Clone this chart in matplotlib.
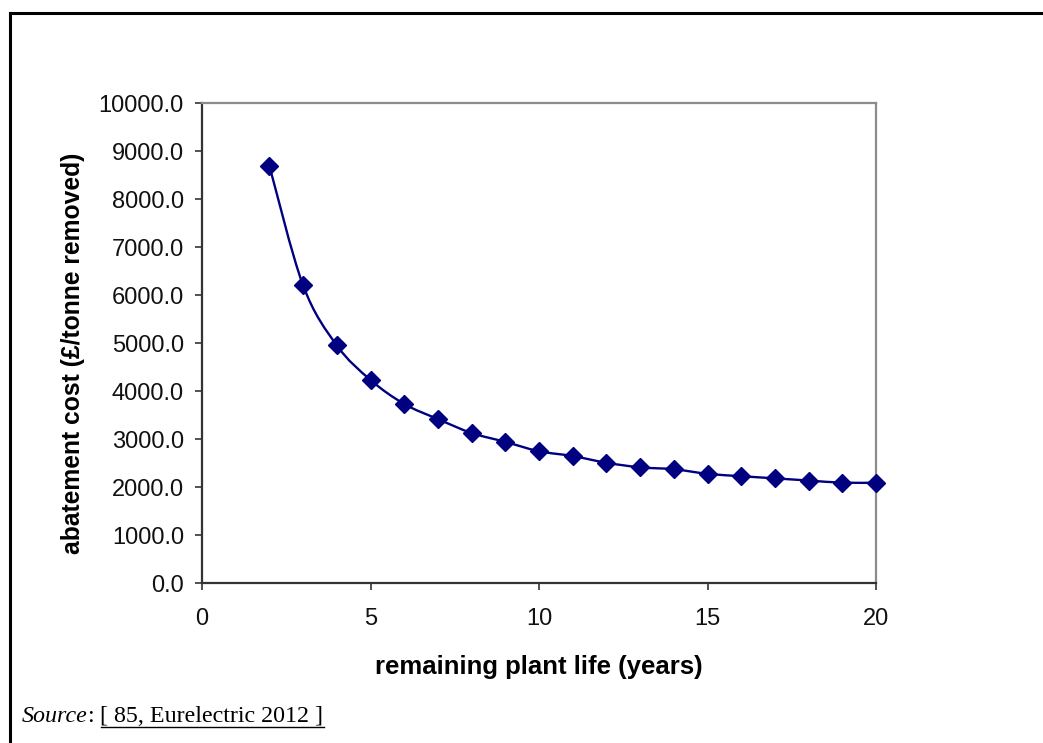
import numpy as np
import matplotlib
matplotlib.use('Agg')
import matplotlib.pyplot as plt
from matplotlib.path import Path
from matplotlib.patches import PathPatch
from matplotlib.lines import Line2D

# Данные графика
plant_life = [2, 3, 4, 5, 6, 7, 8, 9, 10, 11, 12, 13, 14, 15, 16, 17, 18, 19, 20]
abatement_cost = [8690, 6200, 4950, 4230, 3730, 3415, 3125, 2940, 2745, 2645,
                  2505, 2410, 2370, 2275, 2225, 2180, 2135, 2090, 2090]
y_ticks = [0, 1000, 2000, 3000, 4000, 5000, 6000, 7000, 8000, 9000, 10000]
x_ticks = [0, 5, 10, 15, 20]

NAVY = '#000080'
W, H = 1043, 743

plt.rcParams['font.family'] = ['Liberation Sans', 'DejaVu Sans']


# Сглаженная линия как в Excel (кривые Безье через точки)
def smooth_path(xs, ys):
    pts = np.column_stack([xs, ys]).astype(float)
    n = len(pts)
    verts = [pts[0]]
    codes = [Path.MOVETO]
    for i in range(n - 1):
        p0 = pts[i - 1] if i > 0 else pts[i]
        p1 = pts[i]
        p2 = pts[i + 1]
        p3 = pts[i + 2] if i + 2 < n else pts[i + 1]
        c1 = p1 + (p2 - p0) / 6.0
        c2 = p2 - (p3 - p1) / 6.0
        verts += [c1, c2, p2]
        codes += [Path.CURVE4] * 3
    return Path(verts, codes)


fig = plt.figure(figsize=(W / 100, H / 100), dpi=100)
ax = fig.add_axes([202 / W, 1 - 583 / H, 674 / W, 480 / H])

patch = PathPatch(smooth_path(plant_life, abatement_cost), facecolor='none',
                  edgecolor=NAVY, lw=1.7, clip_on=False, zorder=2)
ax.add_patch(patch)
ax.plot(plant_life, abatement_cost, linestyle='none', marker='D', ms=9,
        color=NAVY, clip_on=False, zorder=3)

ax.set_xlim(0, 20)
ax.set_ylim(0, 10000)
ax.set_xticks(x_ticks)
ax.set_yticks(y_ticks)
ax.set_yticklabels([f'{v:.1f}' for v in y_ticks])

for side in ['left', 'bottom']:
    ax.spines[side].set_color('#333333')
    ax.spines[side].set_linewidth(1.6)
for side in ['top', 'right']:
    ax.spines[side].set_color('#8c8c8c')
    ax.spines[side].set_linewidth(1.6)

ax.tick_params(axis='both', direction='out', length=5, width=1.2,
               color='#333333', labelsize=17, labelcolor='#111111')
ax.tick_params(axis='y', pad=8)
ax.tick_params(axis='x', pad=13)

ax.set_xlabel('remaining plant life (years)', fontsize=18.5, fontweight='bold',
              labelpad=18)
ax.set_ylabel('abatement cost (£/tonne removed)', fontsize=17.7,
              fontweight='bold')
ax.yaxis.set_label_coords(-0.174, 0.479)

# Рамка страницы
fig.add_artist(Line2D([10 / W, 10 / W], [0, 1 - 13 / H], transform=fig.transFigure,
                      color='black', lw=2.2))
fig.add_artist(Line2D([10 / W, 1], [1 - 13 / H, 1 - 13 / H], transform=fig.transFigure,
                      color='black', lw=2.2))

# Подпись источника
base_y = 1 - 722 / H
fs_src = 17.3
renderer = fig.canvas.get_renderer()
t1 = fig.text(22 / W, base_y, 'Source', family='Liberation Serif', style='italic',
              fontsize=fs_src, va='baseline')
bb = t1.get_window_extent(renderer)
t2 = fig.text(bb.x1 / W, base_y, ': ', family='Liberation Serif', fontsize=fs_src,
              va='baseline')
bb = t2.get_window_extent(renderer)
t3 = fig.text(bb.x1 / W, base_y, '[ 85, Eurelectric 2012 ]', family='Liberation Serif',
              fontsize=fs_src, va='baseline')
bb3 = t3.get_window_extent(renderer)
ul_y = base_y - 5 / H
fig.add_artist(Line2D([bb3.x0 / W, bb3.x1 / W], [ul_y, ul_y], transform=fig.transFigure,
                      color='black', lw=1.0))

fig.savefig('out.png', dpi=100)
